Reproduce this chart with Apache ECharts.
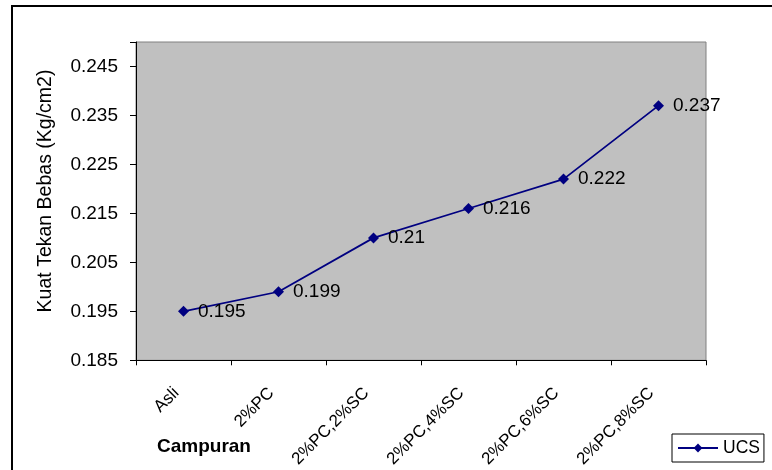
<!DOCTYPE html>
<html>
<head>
<meta charset="utf-8">
<script src="https://cdn.jsdelivr.net/npm/echarts@6/dist/echarts.min.js"></script>
<style>
  html, body { margin: 0; padding: 0; background: #ffffff; }
  #chart { width: 772px; height: 470px; }
</style>
</head>
<body>
<div id="chart"></div>
<script>
// Mix designs (Campuran) and their unconfined compressive strength
const categories = ['Asli', '2%PC', '2%PC,2%SC', '2%PC,4%SC', '2%PC,6%SC', '2%PC,8%SC'];
const ucsValues = [0.195, 0.199, 0.21, 0.216, 0.222, 0.237];
const yTickLabels = ['0.185', '0.195', '0.205', '0.215', '0.225', '0.235', '0.245'];

const FONT = '"Liberation Sans", Arial, sans-serif';

const chart = echarts.init(document.getElementById('chart'), null, { renderer: 'canvas' });

chart.setOption({
  animation: false,
  backgroundColor: '#ffffff',
  textStyle: { fontFamily: FONT },
  grid: {
    left: 136, top: 42, right: 66, bottom: 107,
    show: true,
    backgroundColor: '#c0c0c0',
    borderColor: '#808080',
    borderWidth: 1
  },
  legend: {
    left: 672, top: 434,
    padding: [5, 4, 5, 5],
    borderColor: '#000000',
    borderWidth: 1,
    borderRadius: 0,
    backgroundColor: '#ffffff',
    itemWidth: 40,
    itemHeight: 11,
    textStyle: { fontFamily: FONT, fontSize: 17.5, color: '#000000' },
    data: ['UCS']
  },
  xAxis: {
    type: 'category',
    data: categories,
    boundaryGap: true,
    axisLine: { lineStyle: { color: '#000000', width: 1 } },
    axisTick: { show: true, length: 5, lineStyle: { color: '#000000' } },
    axisLabel: {
      rotate: 45,
      margin: 23,
      padding: [0, 10, 0, 0],
      interval: 0,
      fontFamily: FONT,
      fontSize: 17,
      color: '#000000'
    },
    splitLine: { show: false }
  },
  yAxis: {
    type: 'value',
    min: 0.185,
    max: 0.25,
    interval: 0.01,
    axisLine: { show: true, lineStyle: { color: '#000000', width: 1 } },
    axisTick: { show: true, length: 6, lineStyle: { color: '#000000' } },
    axisLabel: {
      margin: 18,
      fontFamily: FONT,
      fontSize: 19,
      color: '#000000',
      formatter: function (v) {
        const s = v.toFixed(3);
        return yTickLabels.indexOf(s) >= 0 ? s : '';
      }
    },
    splitLine: { show: false }
  },
  graphic: [
    {
      type: 'rect',
      silent: true,
      z: 100,
      shape: { x: 12, y: 6, width: 800, height: 500 },
      style: { fill: 'none', stroke: '#000000', lineWidth: 2 }
    },
    {
      type: 'text',
      silent: true,
      x: 46, y: 191,
      rotation: Math.PI / 2,
      style: {
        text: 'Kuat Tekan Bebas (Kg/cm2)',
        fontFamily: FONT,
        fontSize: 19.5,
        fill: '#000000',
        align: 'center',
        verticalAlign: 'middle'
      }
    },
    {
      type: 'text',
      silent: true,
      x: 204, y: 447,
      style: {
        text: 'Campuran',
        fontFamily: FONT,
        fontSize: 19,
        fontWeight: 'bold',
        fill: '#000000',
        align: 'center',
        verticalAlign: 'middle'
      }
    }
  ],
  series: [
    {
      name: 'UCS',
      type: 'line',
      data: ucsValues,
      symbol: 'diamond',
      symbolSize: 11,
      lineStyle: { color: '#000080', width: 1.75 },
      itemStyle: { color: '#000080' },
      label: {
        show: true,
        position: 'right',
        distance: 9,
        fontFamily: FONT,
        fontSize: 19,
        color: '#000000',
        formatter: function (p) { return String(p.value); }
      }
    }
  ]
});
</script>
</body>
</html>
